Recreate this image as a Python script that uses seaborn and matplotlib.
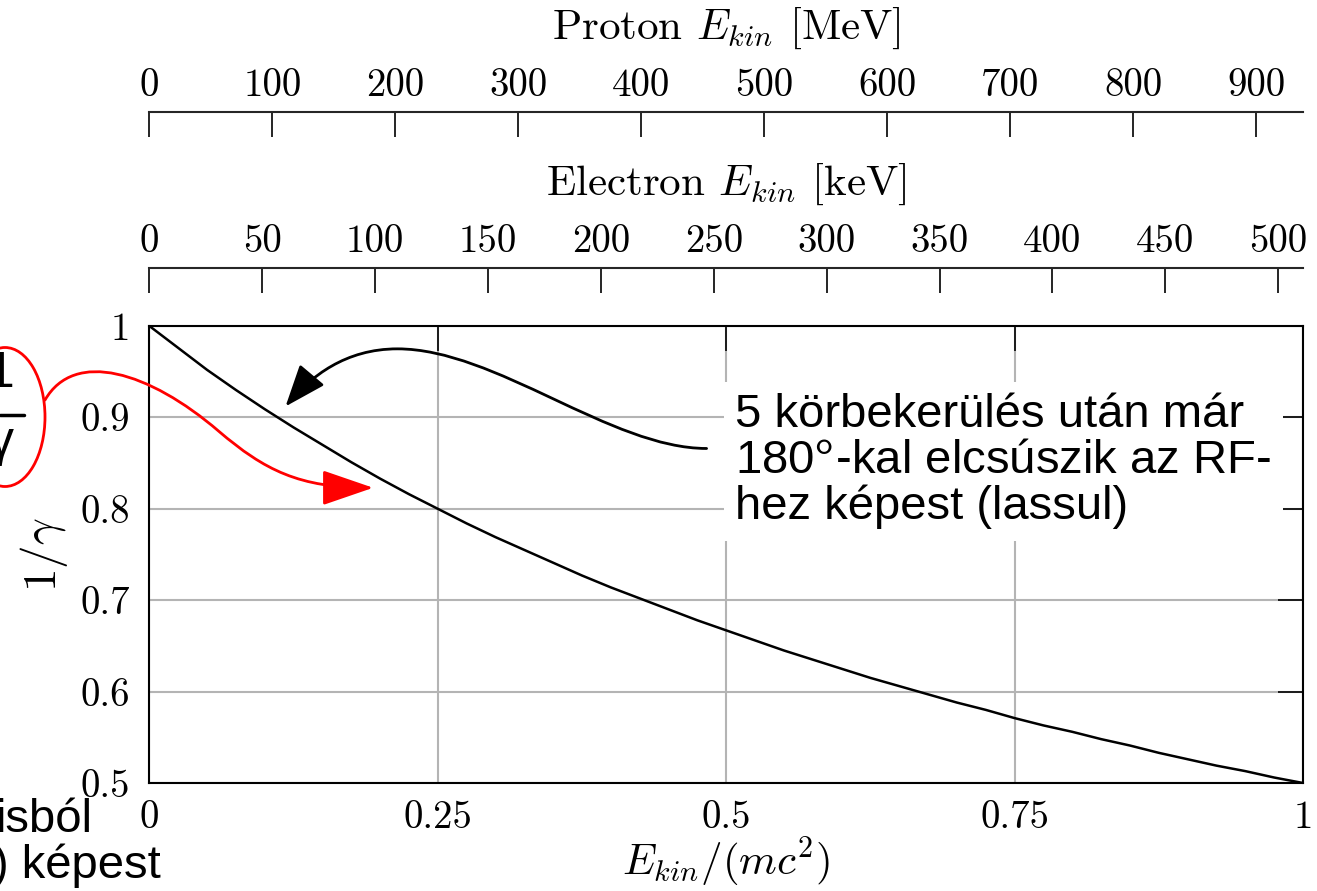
import matplotlib
matplotlib.use("Agg")
import matplotlib.pyplot as plt
import seaborn as sns
import pandas as pd
import numpy as np
from matplotlib.path import Path
from matplotlib.patches import FancyArrowPatch, Ellipse

sns.set_style("white")
plt.rcParams["font.family"] = ["cmr10"]
plt.rcParams["mathtext.fontset"] = "cm"
plt.rcParams["axes.formatter.use_mathtext"] = True
plt.rcParams["text.color"] = "black"
plt.rcParams["axes.labelcolor"] = "black"

# values
ekin_over_mc2 = [0.0, 0.025, 0.05, 0.075, 0.10, 0.125, 0.15, 0.175, 0.20, 0.225,
                 0.25, 0.275, 0.30, 0.325, 0.35, 0.375, 0.40, 0.425, 0.45, 0.475,
                 0.50, 0.525, 0.55, 0.575, 0.60, 0.625, 0.65, 0.675, 0.70, 0.725,
                 0.75, 0.775, 0.80, 0.825, 0.85, 0.875, 0.90, 0.925, 0.95, 0.975, 1.0]
inv_gamma = [1.000, 0.976, 0.952, 0.930, 0.909, 0.889, 0.870, 0.851, 0.833, 0.816,
             0.800, 0.784, 0.769, 0.755, 0.741, 0.727, 0.714, 0.702, 0.690, 0.678,
             0.667, 0.656, 0.645, 0.635, 0.625, 0.615, 0.606, 0.597, 0.588, 0.580,
             0.571, 0.563, 0.556, 0.548, 0.541, 0.533, 0.526, 0.519, 0.513, 0.506, 0.500]

x_ticks = [0, 0.25, 0.5, 0.75, 1]
x_ticklabels = ["0", "0.25", "0.5", "0.75", "1"]
y_ticks = [0.5, 0.6, 0.7, 0.8, 0.9, 1.0]
y_ticklabels = ["0.5", "0.6", "0.7", "0.8", "0.9", "1"]

proton_ticks = [0, 100, 200, 300, 400, 500, 600, 700, 800, 900]
proton_max = 938.27   # MeV, proton rest energy
electron_ticks = [0, 50, 100, 150, 200, 250, 300, 350, 400, 450, 500]
electron_max = 511.0  # keV, electron rest energy

note_text = "5 körbekerülés után már\n180$^{\\mathsf{o}}$-kal elcsúszik az RF-\nhez képest (lassul)"

TICK_FS = 28
LABEL_FS = 31
SANS = ["Liberation Sans", "DejaVu Sans"]

W, H = 1317, 891
fig = plt.figure(figsize=(W / 100, H / 100), dpi=100)
L, R, T, B = 149.4, 1303, 326, 783
ax = fig.add_axes([L / W, 1 - B / H, (R - L) / W, (B - T) / H])

df = pd.DataFrame({"x": ekin_over_mc2, "y": inv_gamma})
sns.lineplot(data=df, x="x", y="y", color="black", lw=1.8, ax=ax, zorder=3)

ax.set_xlim(0, 1)
ax.set_ylim(0.5, 1)
ax.set_xticks(x_ticks, x_ticklabels)
ax.set_yticks(y_ticks, y_ticklabels)
ax.grid(True, color="#b4b4b4", lw=1.5)
ax.tick_params(direction="in", length=18, width=1.2, top=True, right=True,
               labelsize=TICK_FS, colors="black")
ax.tick_params(axis="x", pad=12)
ax.tick_params(axis="y", pad=14)
for s in ax.spines.values():
    s.set_color("black")
    s.set_linewidth(1.5)
ax.set_xlabel("$E_{kin}/(mc^2)$", fontsize=LABEL_FS, labelpad=0)
ax.set_ylabel("$1/\\gamma$", fontsize=34)
ax.yaxis.set_label_coords((70 - L) / (R - L), 0.5)


def top_scale(ypix, vmax, ticks, label):
    a = fig.add_axes([L / W, 1 - ypix / H, (R - L) / W, 0.0001])
    a.set_xlim(0, vmax)
    a.set_facecolor("none")
    for k in ["left", "right", "bottom"]:
        a.spines[k].set_visible(False)
    a.spines["top"].set_linewidth(1.5)
    a.xaxis.tick_top()
    a.xaxis.set_label_position("top")
    a.set_xticks(ticks, [str(t) for t in ticks])
    a.set_yticks([])
    a.tick_params(axis="x", direction="in", length=18, width=1.2,
                  labelsize=TICK_FS, pad=6, colors="black")
    a.set_xlabel(label, fontsize=LABEL_FS, labelpad=21)


top_scale(112, proton_max, proton_ticks, "Proton $E_{kin}$ [MeV]")
top_scale(268, electron_max, electron_ticks, "Electron $E_{kin}$ [keV]")

# note box
ax.text(0.508, 0.852, note_text, family=SANS,
        fontsize=34, va="center", ha="left", linespacing=1.05, zorder=5,
        bbox=dict(facecolor="white", edgecolor="none", pad=8))

# black curved arrow from the note to the curve
black_path = Path([(0.483, 0.866), (0.40, 0.866), (0.30, 0.975), (0.215, 0.975),
                   (0.17, 0.975), (0.14, 0.945), (0.118, 0.912)],
                  [Path.MOVETO, Path.CURVE4, Path.CURVE4, Path.CURVE4,
                   Path.CURVE4, Path.CURVE4, Path.CURVE4])
ax.add_patch(FancyArrowPatch(path=black_path, transform=ax.transData,
                             arrowstyle="-|>,head_length=1.3,head_width=0.5",
                             mutation_scale=20, color="black", lw=2, zorder=6))

# red curved arrow from the circled 1/gamma
red_path = Path([(-0.0905, 0.919), (-0.065, 0.975), (0.0, 0.950), (0.06, 0.885),
                 (0.10, 0.842), (0.13, 0.823), (0.194, 0.823)],
                [Path.MOVETO, Path.CURVE4, Path.CURVE4, Path.CURVE4,
                 Path.CURVE4, Path.CURVE4, Path.CURVE4])
ax.add_patch(FancyArrowPatch(path=red_path, transform=ax.transData,
                             arrowstyle="-|>,head_length=1.6,head_width=0.55",
                             mutation_scale=20, color="red", lw=2, zorder=6,
                             clip_on=False))

# circled 1/gamma cut off at the left edge
fig.patches.append(Ellipse((5 / W, 1 - 417 / H), 80 / W, 139 / H, fill=False,
                           edgecolor="red", lw=2, transform=fig.transFigure))
fig.text(14 / W, 1 - 374 / H, "1", family=SANS, fontsize=36,
         ha="right", va="center")
fig.add_artist(plt.Line2D([0, 24 / W], [1 - 415 / H, 1 - 415 / H],
                          color="black", lw=2.5, transform=fig.transFigure))
fig.text(14 / W, 1 - 443 / H, "γ", family=SANS, fontsize=36,
         ha="right", va="center")

# cut-off slide text at the bottom left
fig.text(-4 / W, 1 - 820 / H, "isból", family=SANS, fontsize=34,
         ha="left", va="center")
fig.text(-7 / W, 1 - 866 / H, ") képest", family=SANS, fontsize=34,
         ha="left", va="center")

fig.savefig("out.png", dpi=100)
